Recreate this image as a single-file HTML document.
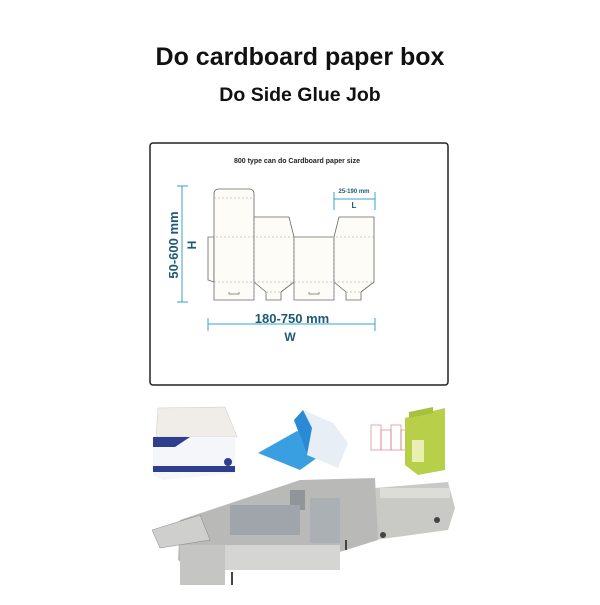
<!DOCTYPE html>
<html><head><style>
body{margin:0;background:#fff;width:600px;height:600px;overflow:hidden;font-family:"Liberation Sans",sans-serif}
</style></head><body>
<svg width="600" height="600" viewBox="0 0 600 600" xmlns="http://www.w3.org/2000/svg" font-family="Liberation Sans, sans-serif">
<text x="300" y="65" text-anchor="middle" font-size="25" font-weight="bold" fill="#111">Do cardboard paper box</text>
<text x="300" y="101" text-anchor="middle" font-size="19.5" font-weight="bold" fill="#111">Do Side Glue Job</text>
<rect x="150" y="143" width="298" height="242" rx="3" fill="#fff" stroke="#222" stroke-width="1.5"/>
<text x="297" y="163" text-anchor="middle" font-size="7" font-weight="bold" fill="#222">800 type  can do Cardboard paper size</text>
<g fill="#fdfcf7" stroke="#666" stroke-width="0.8">
<path d="M208 237 L214 237 L214 282 L208 280 Z"/>
<path d="M214 300 L214 194 Q214 189 219 189 L249 189 Q254 189 254 194 L254 300 Z"/>
<path d="M254 282 L254 217 L289 217 L294 237 L294 282 L281 292 L281 300 L266 300 L266 292 Z"/>
<path d="M294 300 L294 237 L334 237 L334 300 Z"/>
<path d="M334 282 L334 237 L339 217 L374 217 L374 282 L361 292 L361 300 L346 300 L346 292 Z"/>
</g>
<g stroke="#999" stroke-width="0.6" stroke-dasharray="2,2" fill="none">
<line x1="214" y1="198" x2="254" y2="198"/>
<line x1="208" y1="237" x2="374" y2="237"/>
<line x1="214" y1="282" x2="374" y2="282"/>
<line x1="254" y1="217" x2="254" y2="300"/>
<line x1="294" y1="237" x2="294" y2="300"/>
<line x1="334" y1="237" x2="334" y2="300"/>
<line x1="266" y1="292" x2="281" y2="292"/>
<line x1="346" y1="292" x2="361" y2="292"/>
</g>
<path d="M229 292 v2 h10 v-2 M309 292 v2 h10 v-2" stroke="#666" stroke-width="0.7" fill="none"/>
<g stroke="#3aa0c8" stroke-width="1" fill="none">
<line x1="182" y1="186" x2="182" y2="302"/><line x1="177" y1="186" x2="188" y2="186"/><line x1="177" y1="302" x2="188" y2="302"/>
<line x1="208" y1="324" x2="375" y2="324"/><line x1="208" y1="318" x2="208" y2="331"/><line x1="375" y1="318" x2="375" y2="331"/>
<line x1="334" y1="199" x2="375" y2="199"/><line x1="334" y1="192" x2="334" y2="210"/><line x1="375" y1="192" x2="375" y2="210"/>
</g>
<text transform="translate(178,245) rotate(-90)" text-anchor="middle" font-size="13" font-weight="bold" fill="#1d5a74">50-600 mm</text>
<text transform="translate(196,245) rotate(-90)" text-anchor="middle" font-size="12" font-weight="bold" fill="#1d5a74">H</text>
<text x="292" y="323" text-anchor="middle" font-size="13" font-weight="bold" fill="#1d5a74">180-750 mm</text>
<text x="290" y="341" text-anchor="middle" font-size="12" font-weight="bold" fill="#1d5a74">W</text>
<text x="354" y="193" text-anchor="middle" font-size="6" font-weight="bold" fill="#1d5a74">25-190 mm</text>
<text x="354" y="208" text-anchor="middle" font-size="8" font-weight="bold" fill="#1d5a74">L</text>
<path d="M158 408 L225 407 L237 437 L156 437 Z" fill="#f0ede8" stroke="#ccc" stroke-width="0.5"/>
<path d="M153 437 L235 437 L235 473 L163 480 L153 475 Z" fill="#f4f6fa"/>
<path d="M153 437 L190 437 L175 447 L153 447 Z" fill="#2e3f8f"/>
<rect x="153" y="466" width="82" height="6" fill="#2e3f8f"/>
<circle cx="228" cy="462" r="4" fill="#2e3f8f"/>
<path d="M258 453 L297 431 L335 445 L300 470 Z" fill="#3a9fe0"/>
<path d="M294 420 L303 410 L333 423 L348 443 L338 468 L307 455 Z" fill="#e8eef5"/>
<path d="M294 420 L303 410 L312 428 L307 455 Z" fill="#2b8ad6"/>
<g stroke="#d07080" stroke-width="0.6" fill="none">
<rect x="371" y="425" width="10" height="25"/><rect x="381" y="430" width="10" height="20"/><rect x="391" y="425" width="10" height="25"/><rect x="401" y="430" width="8" height="20"/>
</g>
<path d="M405 418 L445 408 L445 470 L418 475 L405 465 Z" fill="#b8cf4a"/>
<rect x="412" y="440" width="12" height="22" fill="#e8efb0"/>
<path d="M409 412 L433 407 L433 413 L409 418 Z" fill="#a8c040"/>
<path d="M375 488 L448 482 L455 508 L448 530 L375 540 Z" fill="#c9c9c6"/>
<rect x="380" y="488" width="70" height="10" fill="#dcdcd8"/>
<path d="M180 520 L300 480 L375 478 L378 540 L330 555 L270 560 L200 575 L178 560 Z" fill="#b9bab8"/>
<rect x="220" y="545" width="120" height="25" fill="#d5d6d3"/>
<rect x="180" y="545" width="45" height="40" fill="#c5c6c3"/>
<rect x="310" y="498" width="30" height="45" fill="#aab0b3"/>
<rect x="290" y="490" width="15" height="20" fill="#8f9599"/>
<path d="M152 530 L200 515 L210 540 L160 548 Z" fill="#cfd0cd" stroke="#888" stroke-width="0.5"/>
<rect x="230" y="505" width="70" height="30" fill="#9fa5aa"/>
<line x1="232" y1="572" x2="232" y2="585" stroke="#444" stroke-width="2"/>
<line x1="346" y1="540" x2="346" y2="550" stroke="#444" stroke-width="2"/>
<circle cx="383" cy="535" r="3" fill="#444"/><circle cx="437" cy="520" r="3" fill="#444"/>
</svg>
</body></html>
